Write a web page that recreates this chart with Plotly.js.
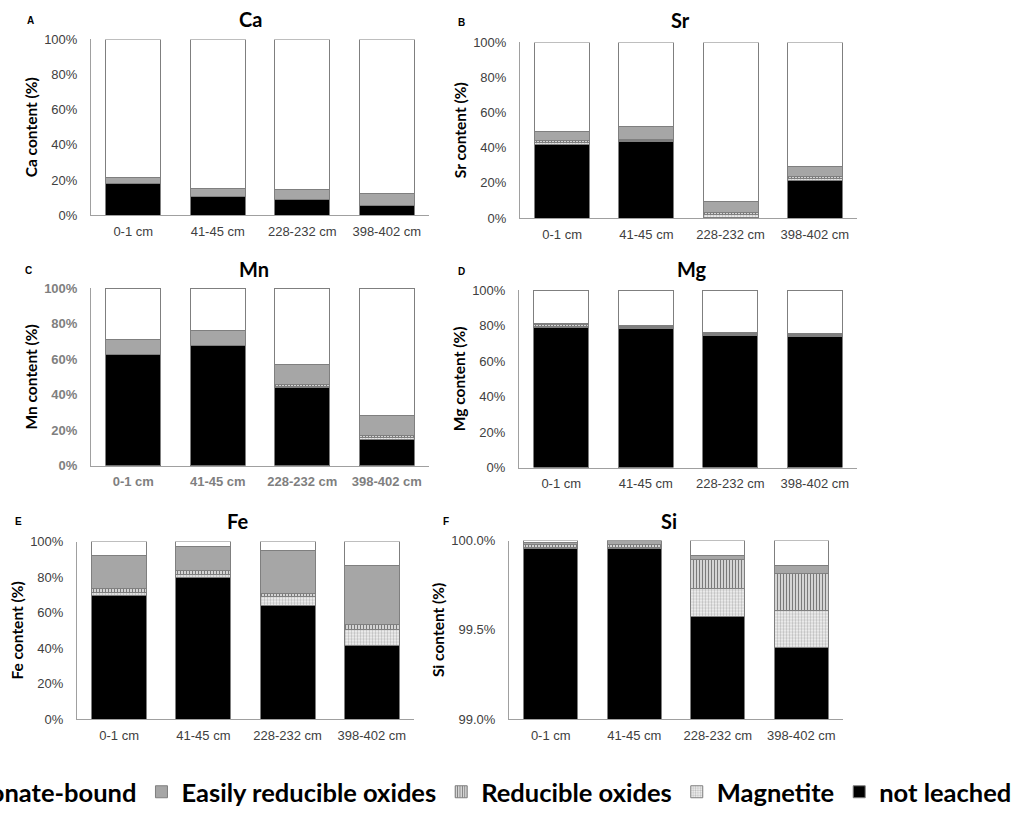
<!DOCTYPE html>
<html>
<head>
<meta charset="utf-8">
<script src="https://cdn.plot.ly/plotly-3.0.1.min.js"></script>
<style>
  html, body { margin: 0; padding: 0; overflow: hidden; background: #fff; }
  #chart { position: absolute; left: -150px; top: 0; width: 1167px; height: 816px; }
</style>
</head>
<body>
<div id="chart"></div>
<script>
// ---------- data (percent of total element content) ----------
const depths = ["0-1 cm", "41-45 cm", "228-232 cm", "398-402 cm"];
const fractionNames = ["not leached", "Magnetite", "Reducible oxides", "Easily reducible oxides", "Carbonate-bound"];
const elements = ["Ca", "Sr", "Mn", "Mg", "Fe", "Si"];
const panelLetters = ["A", "B", "C", "D", "E", "F"];

const caNotLeached = [17.8, 10.3, 9.0, 5.6];
const caMagnetite  = [0, 0, 0, 0];
const caReducible  = [0, 0, 0, 0];
const caEasily     = [3.7, 4.7, 5.4, 6.5];
const caCarbonate  = [78.5, 85.0, 85.6, 87.9];

const srNotLeached = [42.1, 43.6, 0.3, 21.1];
const srMagnetite  = [1.0, 0.7, 1.5, 1.2];
const srReducible  = [1.0, 0.7, 1.6, 1.3];
const srEasily     = [4.9, 7.0, 5.8, 5.6];
const srCarbonate  = [51.0, 48.0, 90.8, 70.8];

const mnNotLeached = [62.7, 67.5, 43.8, 14.8];
const mnMagnetite  = [0, 0, 1.0, 1.0];
const mnReducible  = [0, 0, 0.8, 1.1];
const mnEasily     = [8.5, 8.8, 11.5, 11.3];
const mnCarbonate  = [28.8, 23.7, 42.9, 71.8];

const mgNotLeached = [79.0, 78.3, 74.2, 73.8];
const mgMagnetite  = [0.6, 0.6, 0.6, 0.5];
const mgReducible  = [0.8, 0.6, 0.8, 0.7];
const mgEasily     = [0.7, 0.5, 0.5, 0.5];
const mgCarbonate  = [18.9, 20.0, 23.9, 24.5];

const feNotLeached = [69.4, 79.8, 64.0, 41.6];
const feMagnetite  = [2.2, 1.6, 5.0, 8.9];
const feReducible  = [1.9, 2.1, 1.9, 2.6];
const feEasily     = [18.7, 13.7, 24.1, 33.5];
const feCarbonate  = [7.8, 2.8, 5.0, 13.4];

const siNotLeached = [99.956, 99.956, 99.574, 99.403];
const siMagnetite  = [0.008, 0.008, 0.159, 0.204];
const siReducible  = [0.016, 0.016, 0.162, 0.209];
const siEasily     = [0.008, 0.020, 0.024, 0.042];
const siCarbonate  = [0.012, 0.0, 0.081, 0.142];

const pctTicks = [0, 20, 40, 60, 80, 100];
const pctTickLabels = ["0%", "20%", "40%", "60%", "80%", "100%"];
const siTicks = [99.0, 99.5, 100.0];
const siTickLabels = ["99.0%", "99.5%", "100.0%"];

const seriesByElement = [
  [caNotLeached, caMagnetite, caReducible, caEasily, caCarbonate],
  [srNotLeached, srMagnetite, srReducible, srEasily, srCarbonate],
  [mnNotLeached, mnMagnetite, mnReducible, mnEasily, mnCarbonate],
  [mgNotLeached, mgMagnetite, mgReducible, mgEasily, mgCarbonate],
  [feNotLeached, feMagnetite, feReducible, feEasily, feCarbonate],
  [siNotLeached, siMagnetite, siReducible, siEasily, siCarbonate]
];

// ---------- styling / geometry ----------
const W = 1167, H = 816, OFF = 150;
const dx = px => (px + OFF) / W;
const dy = py => 1 - py / H;

// plot-area boxes in page pixels [left, right, top, bottom]
const boxes = [
  [91, 429, 40, 218],
  [520, 857, 43, 221],
  [91, 429, 292, 472],
  [519, 857, 294, 474],
  [77, 414, 549, 729],
  [509, 843, 548, 729]
];
const titlePos = [[250, 19], [680, 20], [254, 273], [692, 273], [237, 528], [669, 528]];
const letterPos = [[31, 21], [461, 23], [28, 274], [461, 275], [18, 529], [446, 529]];

const markerStyles = [
  { color: "#000000" },
  { color: "#f2f2f2", pattern: { shape: ".", fgcolor: "#bdbdbd", bgcolor: "#f4f4f4", size: 3, solidity: 0.45, fillmode: "replace" } },
  { color: "#dcdcdc", pattern: { shape: "|", fgcolor: "#7a7a7a", bgcolor: "#dedede", size: 3, solidity: 0.4, fillmode: "replace" } },
  { color: "#a6a6a6" },
  { color: "#ffffff" }
];

const traces = [];
seriesByElement.forEach((series, p) => {
  const ax = p === 0 ? "" : String(p + 1);
  series.forEach((vals, s) => {
    traces.push({
      type: "bar",
      x: depths,
      y: vals,
      name: fractionNames[s],
      legendgroup: fractionNames[s],
      showlegend: p === 0,
      xaxis: "x" + ax,
      yaxis: "y" + ax,
      marker: Object.assign({}, markerStyles[s], { line: { color: "#7f7f7f", width: 1 } }),
      hoverinfo: "skip"
    });
  });
});

const layout = {
  width: W, height: H,
  margin: { l: 0, r: 0, t: 0, b: 0 },
  paper_bgcolor: "#ffffff",
  plot_bgcolor: "#ffffff",
  barmode: "stack",
  bargap: 0.35,
  font: { family: "Liberation Sans, Arial, sans-serif", color: "#404040", size: 13 },
  showlegend: true,
  legend: {
    orientation: "h",
    traceorder: "reversed",
    x: 1, xanchor: "right",
    y: dy(803), yanchor: "middle",
    font: { family: "Lato, sans-serif", size: 25.5, weight: 700, color: "#000000" },
    bgcolor: "rgba(0,0,0,0)",
    borderwidth: 0
  },
  annotations: []
};

boxes.forEach((b, p) => {
  const ax = p === 0 ? "" : String(p + 1);
  const boldTicks = p === 2;
  const tickFont = boldTicks
    ? { family: "Liberation Sans, Arial, sans-serif", size: 13, weight: 700, color: "#7f7f7f" }
    : { family: "Liberation Sans, Arial, sans-serif", size: 13, color: "#404040" };
  layout["xaxis" + ax] = {
    domain: [dx(b[0]), dx(b[1])],
    anchor: "y" + ax,
    type: "category",
    showline: true, linecolor: "#a0a0a0", linewidth: 1,
    ticks: "", showgrid: false, zeroline: false,
    tickfont: tickFont,
    ticklabelstandoff: 4,
    fixedrange: true
  };
  const isSi = p === 5;
  layout["yaxis" + ax] = {
    domain: [dy(b[3]), dy(b[2])],
    anchor: "x" + ax,
    range: isSi ? [99, 100] : [0, 100],
    tickmode: "array",
    tickvals: isSi ? siTicks : pctTicks,
    ticktext: isSi ? siTickLabels : pctTickLabels,
    showline: true, linecolor: "#a0a0a0", linewidth: 1,
    ticks: "", showgrid: false, zeroline: false,
    tickfont: tickFont,
    ticklabelstandoff: 10,
    fixedrange: true,
    title: {
      text: elements[p] + " content (%)",
      font: { family: "Lato, sans-serif", size: 15.5, weight: 700, color: "#000000" },
      standoff: 2
    }
  };
  layout.annotations.push({
    xref: "paper", yref: "paper",
    x: dx(titlePos[p][0]), y: dy(titlePos[p][1]),
    xanchor: "center", yanchor: "middle",
    text: elements[p], showarrow: false,
    font: { family: "Lato, sans-serif", size: 20, weight: 700, color: "#000000" }
  });
  layout.annotations.push({
    xref: "paper", yref: "paper",
    x: dx(letterPos[p][0]), y: dy(letterPos[p][1]),
    xanchor: "center", yanchor: "middle",
    text: panelLetters[p], showarrow: false,
    font: { family: "Liberation Sans, Arial, sans-serif", size: 10, weight: 700, color: "#000000" }
  });
});

Plotly.newPlot("chart", traces, layout, { displayModeBar: false, staticPlot: true });
</script>
</body>
</html>
